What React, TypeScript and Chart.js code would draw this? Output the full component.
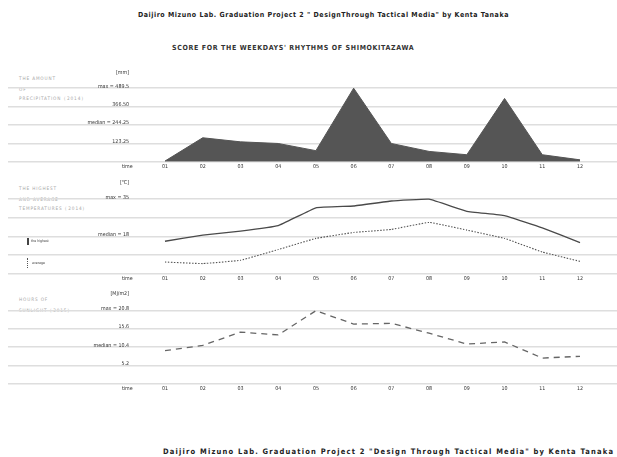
import React, { useEffect, useRef } from "react";
import { Chart, registerables } from "chart.js";

Chart.register(...registerables);

// ---------- data ----------
const months = ["01", "02", "03", "04", "05", "06", "07", "08", "09", "10", "11", "12"];
const xTickLabels = ["time", ...months];

const precipitation = [4, 159, 132, 121, 73, 489.5, 121, 68, 46, 421, 46, 12];
const precipTickValues = [0, 122.375, 244.75, 367.125, 489.5, 580];
const precipTickLabels = ["", "123.25", "median = 244.25", "366.50", "max = 489.5", "[mm]"];

const tempHighest = [15.8, 18.6, 20.4, 22.9, 31.1, 31.9, 34.2, 35, 29.5, 27.5, 21.9, 15.2];
const tempAverage = [6.3, 5.6, 7.1, 12.0, 17.1, 19.8, 21.2, 24.4, 20.9, 17.1, 10.9, 6.6];
const tempTickValues = [1, 9.5, 18, 26.5, 35, 41.6];
const tempTickLabels = ["", "", "median = 18", "", "max = 35", "[℃]"];

const sunlight = [9.4, 10.9, 14.7, 13.9, 20.8, 17.0, 17.2, 14.4, 11.3, 11.9, 7.3, 7.8];
const sunTickValues = [0, 5.2, 10.4, 15.6, 20.8, 25];
const sunTickLabels = ["", "5.2", "median = 10.4", "15.6", "max = 20.8", "[MJ/m2]"];

const FONT = "'DejaVu Sans Condensed', 'DejaVu Sans', sans-serif";

type Kind = "area" | "solid" | "dotted" | "dashed";
interface Series { values: number[]; kind: Kind }
interface PanelProps {
  top: number;
  height: number;
  padTop: number;
  yMin: number;
  yMax: number;
  tickValues: number[];
  tickLabels: string[];
  series: Series[];
}

function styleFor(kind: Kind) {
  switch (kind) {
    case "area":
      return { fill: "origin", backgroundColor: "#555555", borderColor: "#555555", borderWidth: 1, tension: 0 };
    case "solid":
      return { fill: false, borderColor: "#4a4a4a", borderWidth: 1.3, tension: 0.08 };
    case "dotted":
      return { fill: false, borderColor: "#555555", borderWidth: 1.1, borderDash: [1.5, 1.5], tension: 0.08 };
    case "dashed":
    default:
      return { fill: false, borderColor: "#666666", borderWidth: 1.3, borderDash: [6, 5], tension: 0 };
  }
}

const AXIS_W = 121;
const X_MIN = 0.046;
const X_MAX = 12.98;

function Panel(p: PanelProps) {
  const ref = useRef<HTMLCanvasElement>(null);
  useEffect(() => {
    const datasets = p.series.map((s) => ({
      data: s.values.map((v, i) => ({ x: i + 1, y: v })),
      pointRadius: 0,
      ...styleFor(s.kind),
    }));
    const last = p.tickValues.length - 1;
    const chart = new Chart(ref.current as HTMLCanvasElement, {
      type: "line",
      data: { datasets: datasets as any },
      options: {
        animation: false,
        responsive: false,
        maintainAspectRatio: false,
        events: [],
        layout: { padding: { left: 8, top: p.padTop, right: 0, bottom: 0 } },
        plugins: { legend: { display: false }, tooltip: { enabled: false }, title: { display: false } },
        scales: {
          x: {
            type: "linear",
            min: X_MIN,
            max: X_MAX,
            grid: { display: false, drawTicks: false },
            border: { display: false },
            afterBuildTicks: (s: any) => {
              s.ticks = xTickLabels.map((_, i) => ({ value: i }));
            },
            ticks: {
              autoSkip: false,
              maxRotation: 0,
              padding: 2,
              color: "#333333",
              font: { size: 5.3, family: FONT },
              callback: (_v: any, i: number) => xTickLabels[i],
            },
          },
          y: {
            type: "linear",
            min: p.yMin,
            max: p.yMax,
            border: { display: false },
            grid: {
              color: (ctx: any) => (ctx.index === last ? "rgba(0,0,0,0)" : "#dedede"),
              lineWidth: 1.5,
              drawTicks: true,
              tickLength: AXIS_W,
            },
            afterBuildTicks: (s: any) => {
              s.ticks = p.tickValues.map((v) => ({ value: v }));
            },
            afterFit: (s: any) => {
              s.width = AXIS_W;
            },
            ticks: {
              autoSkip: false,
              padding: -AXIS_W,
              labelOffset: -2,
              crossAlign: "near",
              color: "#333333",
              font: { size: 5.3, family: FONT },
              callback: (_v: any, i: number) => p.tickLabels[i],
            },
          },
        },
      } as any,
    });
    return () => chart.destroy();
  }, []);
  return (
    <canvas
      ref={ref}
      width={617}
      height={p.height}
      style={{ position: "absolute", left: 0, top: p.top, width: 617, height: p.height }}
    />
  );
}

function Txt(props: { x: number; y: number; size: number; color?: string; bold?: boolean; ls?: number; children: React.ReactNode }) {
  return (
    <div
      style={{
        position: "absolute",
        left: props.x,
        top: props.y,
        transform: "translateY(-50%)",
        fontFamily: FONT,
        fontSize: props.size,
        lineHeight: 1,
        whiteSpace: "pre",
        color: props.color ?? "#222",
        fontWeight: props.bold ? "bold" : "normal",
        letterSpacing: props.ls ?? 0,
      }}
    >
      {props.children}
    </div>
  );
}

export default function App() {
  const gray = "#a9a9a9";
  return (
    <div style={{ position: "fixed", left: 0, top: 0, width: 617, height: 457, background: "#fff", overflow: "hidden" }}>
      <Txt x={138} y={15} size={7} bold ls={0.55}>
        {'Daijiro Mizuno Lab. Graduation Project 2 " DesignThrough Tactical Media" by Kenta Tanaka'}
      </Txt>
      <Txt x={172} y={48} size={7} bold ls={0.65} color="#333">
        {"SCORE FOR THE WEEKDAYS' RHYTHMS OF SHIMOKITAZAWA"}
      </Txt>

      {/* panel titles */}
      <Txt x={19} y={79} size={4.7} color={gray} ls={0.85}>THE AMOUNT</Txt>
      <Txt x={19} y={89.5} size={4.7} color={gray} ls={0.85}>OF</Txt>
      <Txt x={19} y={98.5} size={4.7} color={gray} ls={0.85}>PRECIPITATION（2014）</Txt>

      <Txt x={19} y={188.5} size={4.7} color={gray} ls={0.85}>THE HIGHEST</Txt>
      <Txt x={19} y={199.5} size={4.7} color={gray} ls={0.85}>AND AVERAGE</Txt>
      <Txt x={19} y={209} size={4.7} color={gray} ls={0.85}>TEMPERATURES（2014）</Txt>

      <Txt x={19} y={300} size={4.7} color={gray} ls={0.85}>HOURS OF</Txt>
      <Txt x={19} y={310.7} size={4.7} color={gray} ls={0.85}>SUNLIGHT（2015）</Txt>

      <Panel
        top={60}
        height={112}
        padTop={8}
        yMin={0}
        yMax={624}
        tickValues={precipTickValues}
        tickLabels={precipTickLabels}
        series={[{ values: precipitation, kind: "area" }]}
      />
      <Panel
        top={170}
        height={114}
        padTop={8}
        yMin={1}
        yMax={44.7}
        tickValues={tempTickValues}
        tickLabels={tempTickLabels}
        series={[
          { values: tempHighest, kind: "solid" },
          { values: tempAverage, kind: "dotted" },
        ]}
      />
      <Panel
        top={280}
        height={114}
        padTop={9}
        yMin={0}
        yMax={27}
        tickValues={sunTickValues}
        tickLabels={sunTickLabels}
        series={[{ values: sunlight, kind: "dashed" }]}
      />

      {/* legend for temperature panel */}
      <div style={{ position: "absolute", left: 27, top: 238, width: 1.5, height: 7, background: "#444" }} />
      <Txt x={31} y={241.7} size={3.5} color="#444">the highest</Txt>
      <div style={{ position: "absolute", left: 27, top: 257.5, width: 0, height: 10, borderLeft: "1.5px dotted #555" }} />
      <Txt x={32} y={264} size={3.5} color="#444">average</Txt>

      <Txt x={163} y={452} size={7.5} bold ls={1.2}>
        {'Daijiro Mizuno Lab. Graduation Project 2 "Design Through Tactical Media" by Kenta Tanaka'}
      </Txt>
    </div>
  );
}
